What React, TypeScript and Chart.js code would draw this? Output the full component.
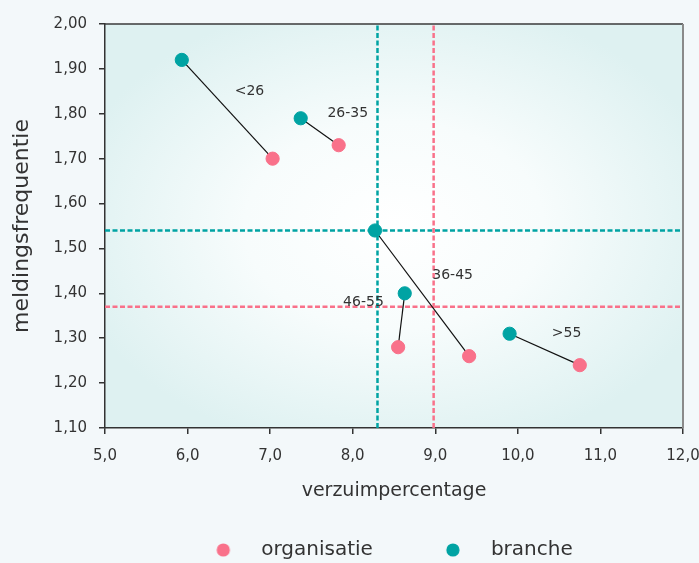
import React, { useEffect, useRef } from "react";
import { Chart, registerables } from "chart.js";

Chart.register(...registerables);

// ---- data ----
const groups = ["<26", "26-35", "36-45", "46-55", ">55"];
const orgX = [7.03, 7.83, 9.41, 8.55, 10.75];
const orgY = [1.7, 1.73, 1.26, 1.28, 1.24];
const braX = [5.93, 7.37, 8.27, 8.63, 9.9];
const braY = [1.92, 1.79, 1.54, 1.4, 1.31];
const labelX = [6.75, 7.94, 9.21, 8.13, 10.59];
const labelY = [1.85, 1.8, 1.44, 1.38, 1.31];
const orgAvgX = 8.98;
const orgAvgY = 1.37;
const braAvgX = 8.3;
const braAvgY = 1.54;
const xTicks = [5, 6, 7, 8, 9, 10, 11, 12];
const yTicks = [1.1, 1.2, 1.3, 1.4, 1.5, 1.6, 1.7, 1.8, 1.9, 2.0];
const seriesNames = ["organisatie", "branche"];

const PINK = "#f9718a";
const TEAL = "#00a3a3";
const FONT = "'DejaVu Sans'";
const TEXT = "#333333";

const LEGEND_BOX = 108;

function makeDot(color: string) {
  const c = document.createElement("canvas");
  c.width = 80;
  c.height = 14;
  const g = c.getContext("2d")!;
  g.fillStyle = color;
  g.beginPath();
  g.arc(66, 7, 6.6, 0, Math.PI * 2);
  g.fill();
  return c;
}

const bgPlugin = {
  id: "bgPlugin",
  beforeDraw(chart: any) {
    const { ctx, chartArea: a } = chart;
    ctx.save();
    const cx = (a.left + a.right) / 2;
    const cy = (a.top + a.bottom) / 2;
    const rx = (a.right - a.left) / 2;
    const ry = (a.bottom - a.top) / 2;
    ctx.translate(cx, cy);
    ctx.scale(rx, ry);
    const gr = ctx.createRadialGradient(0, 0, 0, 0, 0, 1.15);
    gr.addColorStop(0, "#ffffff");
    gr.addColorStop(0.45, "#f7fcfc");
    gr.addColorStop(1, "#def1f1");
    ctx.fillStyle = gr;
    ctx.fillRect(-1, -1, 2, 2);
    ctx.restore();
  },
  afterDraw(chart: any) {
    const { ctx, chartArea: a } = chart;
    ctx.save();
    ctx.lineWidth = 1.5;
    ctx.strokeStyle = "#3a3a3a";
    ctx.beginPath();
    ctx.moveTo(a.left, a.top);
    ctx.lineTo(a.right, a.top);
    ctx.stroke();
    ctx.lineWidth = 2;
    ctx.strokeStyle = "#8a8a8a";
    ctx.beginPath();
    ctx.moveTo(a.right, a.top);
    ctx.lineTo(a.right, a.bottom);
    ctx.stroke();
    ctx.restore();
  },
};

const labelPlugin = {
  id: "labelPlugin",
  afterDatasetsDraw(chart: any) {
    const { ctx } = chart;
    const xs = chart.scales.x;
    const ys = chart.scales.y;
    ctx.save();
    ctx.font = `14px ${FONT}`;
    ctx.fillStyle = TEXT;
    ctx.textAlign = "center";
    ctx.textBaseline = "middle";
    groups.forEach((g, i) => {
      ctx.fillText(g, xs.getPixelForValue(labelX[i]), ys.getPixelForValue(labelY[i]));
    });
    ctx.restore();
  },
};

export default function App() {
  const ref = useRef<HTMLCanvasElement>(null);
  useEffect(() => {
    document.body.style.margin = "0";
    const dots = [makeDot(PINK), makeDot(TEAL)];
    const yMin = yTicks[0];
    const yMax = yTicks[yTicks.length - 1];
    const connectors = groups.map((g, i) => ({
      type: "line" as const,
      label: "c" + g,
      data: [
        { x: braX[i], y: braY[i] },
        { x: orgX[i], y: orgY[i] },
      ],
      borderColor: "#111111",
      borderWidth: 1.2,
      pointRadius: 0,
      order: 1,
    }));
    const refLine = (pts: any[], color: string) => ({
      type: "line" as const,
      label: "ref",
      data: pts,
      borderColor: color,
      borderWidth: 2.5,
      borderDash: [5, 2.5],
      pointRadius: 0,
      order: 2,
    });
    const chart = new Chart(ref.current!, {
      type: "scatter",
      data: {
        datasets: [
          {
            label: seriesNames[0],
            data: orgX.map((x, i) => ({ x, y: orgY[i] })),
            backgroundColor: PINK,
            borderColor: PINK,
            pointRadius: 6.6,
            pointHoverRadius: 6.6,
            order: 0,
          },
          {
            label: seriesNames[1],
            data: braX.map((x, i) => ({ x, y: braY[i] })),
            backgroundColor: TEAL,
            borderColor: TEAL,
            pointRadius: 6.6,
            pointHoverRadius: 6.6,
            order: 0,
          },
          ...connectors,
          refLine([{ x: braAvgX, y: yMin }, { x: braAvgX, y: yMax }], TEAL),
          refLine([{ x: orgAvgX, y: yMin }, { x: orgAvgX, y: yMax }], PINK),
          refLine([{ x: xTicks[0], y: braAvgY }, { x: xTicks[xTicks.length - 1], y: braAvgY }], TEAL),
          refLine([{ x: xTicks[0], y: orgAvgY }, { x: xTicks[xTicks.length - 1], y: orgAvgY }], PINK),
        ] as any,
      },
      options: {
        animation: false,
        responsive: false,
        layout: { padding: { left: 33, right: 16, top: 24, bottom: -7 } },
        plugins: {
          tooltip: { enabled: false },
          legend: {
            position: "bottom",
            labels: {
              usePointStyle: true,
              pointStyleWidth: LEGEND_BOX,
              padding: 0,
              color: TEXT,
              font: { family: FONT, size: 20 },
              filter: (item: any) => seriesNames.includes(item.text),
              generateLabels: (c: any) => {
                const items = Chart.defaults.plugins.legend.labels.generateLabels(c);
                return items.map((it: any) => {
                  const idx = seriesNames.indexOf(it.text);
                  if (idx >= 0) it.pointStyle = dots[idx];
                  return it;
                });
              },
            },
          },
        },
        scales: {
          x: {
            type: "linear",
            min: xTicks[0],
            max: xTicks[xTicks.length - 1],
            afterFit: (s: any) => {
              s.height = 112;
              s.paddingLeft = 0;
              s.paddingRight = 0;
            },
            afterBuildTicks: (s: any) => {
              s.ticks = xTicks.map((v) => ({ value: v }));
            },
            ticks: {
              color: TEXT,
              font: { family: FONT, size: 15 },
              padding: 13,
              callback: (v: any) => Number(v).toFixed(1).replace(".", ","),
            },
            grid: { drawOnChartArea: false, drawTicks: true, tickLength: 6, color: "#333333", lineWidth: 1.5 },
            border: { display: true, color: "#333333", width: 1.5 },
            title: {
              display: true,
              text: "verzuimpercentage",
              color: TEXT,
              font: { family: FONT, size: 19 },
              padding: { top: 0, bottom: 37.5 },
            },
          },
          y: {
            type: "linear",
            min: yMin,
            max: yMax,
            afterFit: (s: any) => {
              s.width = 72;
              s.paddingTop = 0;
              s.paddingBottom = 0;
            },
            afterBuildTicks: (s: any) => {
              s.ticks = yTicks.map((v) => ({ value: v }));
            },
            ticks: {
              color: TEXT,
              font: { family: FONT, size: 15 },
              padding: 12,
              callback: (v: any) => Number(v).toFixed(2).replace(".", ","),
            },
            grid: { drawOnChartArea: false, drawTicks: true, tickLength: 6, color: "#333333", lineWidth: 1.5 },
            border: { display: true, color: "#333333", width: 1.5 },
            title: {
              display: true,
              text: "meldingsfrequentie",
              color: TEXT,
              font: { family: FONT, size: 22 },
              padding: { top: -24, bottom: 0 },
            },
          },
        },
      },
      plugins: [bgPlugin, labelPlugin],
    });
    return () => chart.destroy();
  }, []);
  return (
    <div style={{ width: 699, height: 563, background: "#f3f8fa" }}>
      <canvas ref={ref} width={699} height={563} style={{ display: "block" }} />
    </div>
  );
}
